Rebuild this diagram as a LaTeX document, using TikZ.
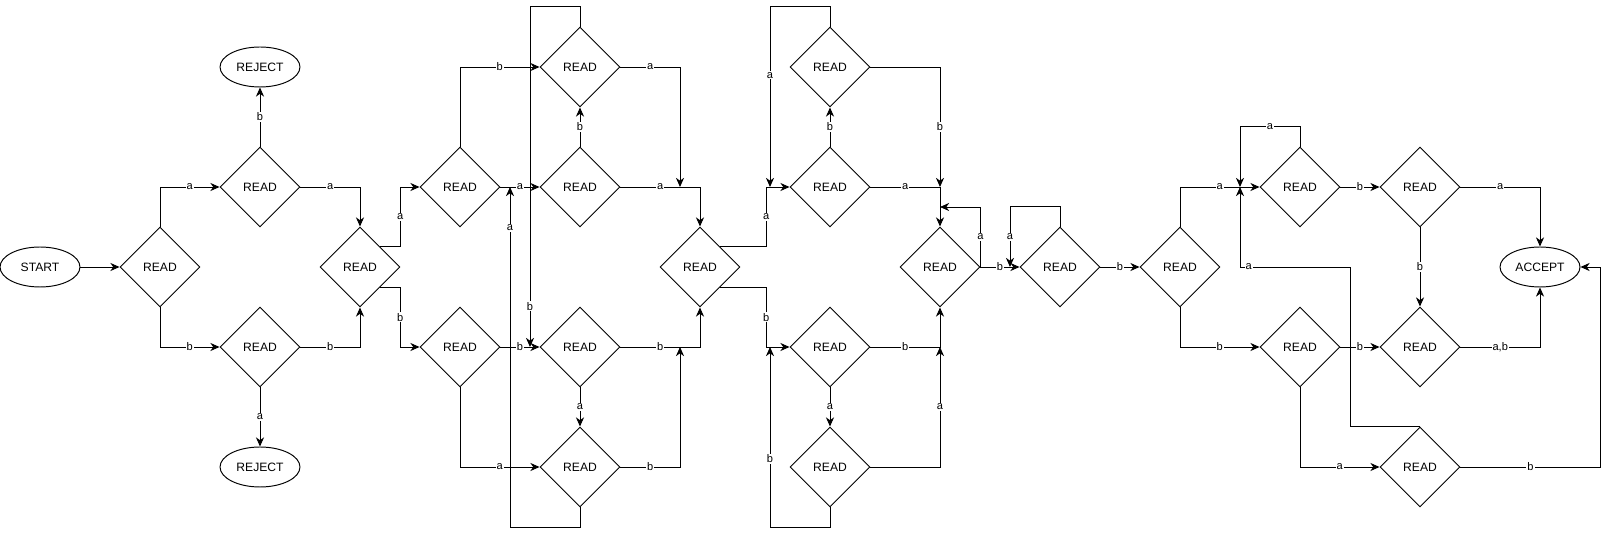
\documentclass[tikz,border=0pt]{standalone}
\usepackage{fontspec}
\setmainfont{Liberation Sans}
\usetikzlibrary{shapes.geometric, arrows.meta}

\begin{document}
\begin{tikzpicture}[
  x=0.02cm, y=-0.02cm,
  readbox/.style={diamond, draw=black, line width=0.55pt, minimum width=1.6cm, minimum height=1.6cm, aspect=1, inner sep=0pt, font=\fontsize{6.9}{8}\selectfont},
  endbox/.style={ellipse, draw=black, line width=0.55pt, minimum width=1.6cm, minimum height=0.8cm, inner sep=0pt, font=\fontsize{6.9}{8}\selectfont},
  arr/.style={-{Stealth[length=5.2pt,width=4.6pt,inset=1.6pt]}, line width=0.55pt},
  lbl/.style={fill=white, inner sep=0.6pt, font=\fontsize{6.3}{7}\selectfont}
]
\useasboundingbox (0,0) rectangle (1609,536);

\foreach \name/\x/\y in {r1/160/267, r2/260/187, r3/260/347, r4/360/267, r5/460/187, r6/460/347,
  r7/580/67, r8/580/187, r9/580/347, r10/580/467, r11/700/267,
  r12/830/67, r13/830/187, r14/830/347, r15/830/467, r16/940/267, r17/1060/267, r18/1180/267,
  r19/1300/187, r20/1420/187, r21/1300/347, r22/1420/347, r23/1420/467}
  \node[readbox] (\name) at (\x,\y) {READ};

\node[endbox] (start) at (40,267) {START};
\node[endbox] (rej1) at (260,67) {REJECT};
\node[endbox] (rej2) at (260,467) {REJECT};
\node[endbox] (acc) at (1540,267) {ACCEPT};

% points where edges join another edge
\coordinate (j1) at (510,187);
\coordinate (j2) at (530,347);
\coordinate (j3) at (680,187);
\coordinate (j4) at (680,347);
\coordinate (j5) at (770,187);
\coordinate (j6) at (770,347);
\coordinate (j7) at (940,207);
\coordinate (j8) at (1010,267);
\coordinate (j9) at (1240,187);
\coordinate (j10) at (940,187);
\coordinate (j11) at (940,347);

\draw[arr] (start) -- (r1);
\draw[arr] (r1.north) |- (r2.west) node[lbl, pos=0.75] {a};
\draw[arr] (r1.south) |- (r3.west) node[lbl, pos=0.75] {b};
\draw[arr] (r2.north) -- (rej1.south) node[lbl, midway] {b};
\draw[arr] (r3.south) -- (rej2.north) node[lbl, midway] {a};
\draw[arr] (r2.east) -| (r4.north) node[lbl, pos=0.25] {a};
\draw[arr] (r3.east) -| (r4.south) node[lbl, pos=0.25] {b};
\draw[arr] (r4.north east) -- ++(20,0) |- (r5.west) node[lbl, pos=0.25] {a};
\draw[arr] (r4.south east) -- ++(20,0) |- (r6.west) node[lbl, pos=0.25] {b};

\draw[arr] (r5.north) |- (r7.west) node[lbl, pos=0.75] {b};
\draw[arr] (r5.east) -- (r8.west) node[lbl, midway] {a};
\draw[arr] (r6.east) -- (r9.west) node[lbl, midway] {b};
\draw[arr] (r6.south) |- (r10.west) node[lbl, pos=0.75] {a};
\draw[arr] (r8.north) -- (r7.south) node[lbl, midway] {b};
\draw[arr] (r9.south) -- (r10.north) node[lbl, midway] {a};
\draw[arr] (r7.north) -- ++(0,-20) -| (j2) node[lbl, pos=0.94] {b};
\draw[arr] (r10.south) -- ++(0,20) -| (j1) node[lbl, pos=0.94] {a};
\draw[arr] (r7.east) -| (j3) node[lbl, pos=0.25] {a};
\draw[arr] (r10.east) -| (j4) node[lbl, pos=0.25] {b};
\draw[arr] (r8.east) -| (r11.north) node[lbl, pos=0.25] {a};
\draw[arr] (r9.east) -| (r11.south) node[lbl, pos=0.25] {b};

\draw[arr] (r11.north east) -- ++(46,0) |- (r13.west) node[lbl, pos=0.25] {a};
\draw[arr] (r11.south east) -- ++(46,0) |- (r14.west) node[lbl, pos=0.25] {b};
\draw[arr] (r13.north) -- (r12.south) node[lbl, midway] {b};
\draw[arr] (r14.south) -- (r15.north) node[lbl, midway] {a};
\draw[arr] (r12.north) -- ++(0,-20) -| (j5) node[lbl, pos=0.69] {a};
\draw[arr] (r15.south) -- ++(0,20) -| (j6) node[lbl, pos=0.69] {b};
\draw[arr] (r12.east) -| (j10) node[lbl, pos=0.75] {b};
\draw[arr] (r15.east) -| (j11) node[lbl, pos=0.75] {a};
\draw[arr] (r13.east) -| (r16.north) node[lbl, pos=0.25] {a};
\draw[arr] (r14.east) -| (r16.south) node[lbl, pos=0.25] {b};

\draw[arr] (r16.east) |- (j7) node[lbl, pos=0.25] {a};
\draw[arr] (r16.east) -- (r17.west) node[lbl, midway] {b};
\draw[arr] (r17.north) -- ++(0,-20) -| (j8) node[lbl, pos=0.75] {a};
\draw[arr] (r17.east) -- (r18.west) node[lbl, midway] {b};

\draw[arr] (r18.north) |- (r19.west) node[lbl, pos=0.75] {a};
\draw[arr] (r18.south) |- (r21.west) node[lbl, pos=0.75] {b};
\draw[arr] (r19.north) -- ++(0,-20) -| (j9) node[lbl, pos=0.25] {a};
\draw[arr] (r23.north) -| (1350,267) -| (j9) node[lbl, pos=0.46] {a};
\draw[arr] (r19.east) -- (r20.west) node[lbl, midway] {b};
\draw[arr] (r21.east) -- (r22.west) node[lbl, midway] {b};
\draw[arr] (r20.south) -- (r22.north) node[lbl, midway] {b};
\draw[arr] (r20.east) -| (acc.north) node[lbl, pos=0.25] {a};
\draw[arr] (r22.east) -| (acc.south) node[lbl, pos=0.25] {a,b};
\draw[arr] (r21.south) |- (r23.west) node[lbl, pos=0.75] {a};
\draw[arr] (r23.east) -- ++(140,0) node[lbl, midway] {b} |- (acc.east);
\end{tikzpicture}
\end{document}
